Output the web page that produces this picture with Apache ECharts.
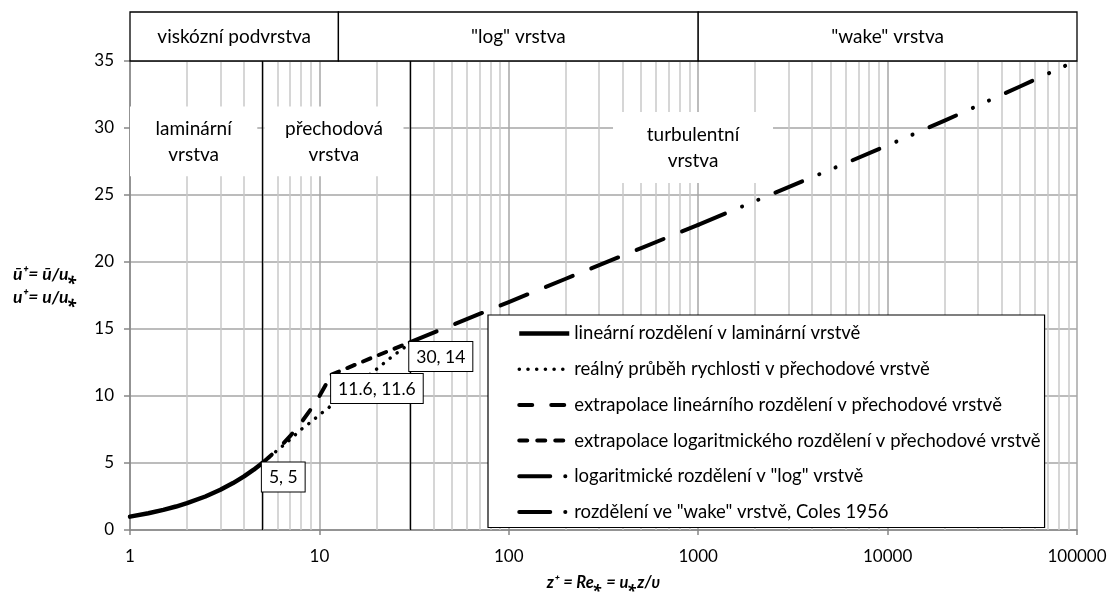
<!DOCTYPE html>
<html><head><meta charset="utf-8">
<script src="https://cdn.jsdelivr.net/npm/echarts@6/dist/echarts.min.js"></script>
<style>html,body{margin:0;padding:0;background:#fff}#c{width:1109px;height:593px}</style>
</head><body><div id="c"></div>
<script>
// ---------- data ----------
const seriesNames = [
  'lineární rozdělení v laminární vrstvě',
  'reálný průběh rychlosti v přechodové vrstvě',
  'extrapolace lineárního rozdělení v přechodové vrstvě',
  'extrapolace logaritmického rozdělení v přechodové vrstvě',
  'logaritmické rozdělení v "log" vrstvě',
  'rozdělení ve "wake" vrstvě, Coles 1956'
];
const laminarZ = [1, 1.25, 1.5, 1.75, 2, 2.5, 3, 3.5, 4, 4.5, 5];
const laminarU = [1, 1.25, 1.5, 1.75, 2, 2.5, 3, 3.5, 4, 4.5, 5];
const realZ = [5, 5.5, 6, 6.5, 7, 8, 9, 10, 11.6, 14, 17, 20, 24, 28, 30];
const realU = [5.0, 5.5, 5.95, 6.35, 6.75, 7.5, 8.05, 8.6, 9.3, 10.3, 11.2, 12.0, 12.9, 13.6, 14.0];
const linExtZ = [5, 6, 7, 8, 9, 10, 11.6];
const linExtU = [5, 6, 7, 8, 9, 10, 11.6];
const logExtZ = [11.6, 20, 30];
const logExtU = [11.6, 12.99, 14.0];
const logZ = [30, 50, 100, 200, 500, 1000];
const logU = [14.0, 15.28, 17.01, 18.75, 21.04, 22.77];
const wakeZ = [1000, 2000, 5000, 10000, 20000, 50000, 90000, 100000];
const wakeU = [22.77, 24.55, 26.9, 28.7, 30.55, 33.1, 34.75, 35.0];
const pointZ = [5, 11.6, 30];
const pointU = [5, 11.6, 14];
const pointLabels = ['5, 5', '11.6, 11.6', '30, 14'];
const layerBoundaries = [5, 30];
const headerLabels = ['viskózní podvrstva', '"log" vrstva', '"wake" vrstva'];
const headerBounds = [1, 12.6, 1000, 100000];
const regionLabels = ['laminární\nvrstva', 'přechodová\nvrstva', 'turbulentní\nvrstva'];
const xTickLabels = ['1', '10', '100', '1000', '10000', '100000'];
const yTickLabels = ['0', '5', '10', '15', '20', '25', '30', '35'];
const yAxisTitle = 'ū⁺= ū/u⁎\nu⁺= u/u⁎';
const xAxisTitle = 'z⁺ = Re⁎ = u⁎z/υ';

// ---------- chart ----------
const FONT = 'Lato, "Noto Sans", "DejaVu Sans", sans-serif';
const TXT = '#000';
const pairs = (xs, ys) => xs.map((x, i) => [x, ys[i]]);

const minorGridZ = [];
for (let d = 1; d < 100000; d *= 10) for (let k = 2; k <= 9; k++) minorGridZ.push(k * d);

// region box extents (annotation layout)
const regionBoxes = [
  [[1, 26.4], [4.7, 31.6]],
  [[5.12, 26.4], [27.8, 31.6]],
  [[355, 25.9], [2483, 31.2]]
];

const curveStyles = [
  { width: 4.5, type: 'solid', cap: 'round' },
  { width: 3.5, type: [0.1, 8.6], cap: 'round' },
  { width: 4, type: [12.5, 17], cap: 'round' },
  { width: 4, type: [8, 9], cap: 'round' },
  { width: 4, type: [29, 20], cap: 'round' },
  { width: 4, type: [29, 18.5, 0.1, 17.5, 0.1, 18.5], cap: 'round' }
];
const legendStyles = [
  { width: 4.5, type: 'solid', cap: 'butt', color: '#000' },
  { width: 3.5, type: [0.1, 8.6], cap: 'round', color: '#000' },
  { width: 4, type: [13, 19], cap: 'round', color: '#000' },
  { width: 4, type: [8, 10], cap: 'round', color: '#000' },
  { width: 4, type: [31, 15, 0.1, 30], cap: 'round', color: '#000' },
  { width: 4, type: [31, 15, 0.1, 30], cap: 'round', color: '#000' }
];
const hiddenSymbol = { color: 'rgba(0,0,0,0)', borderColor: 'rgba(0,0,0,0)', borderWidth: 0, opacity: 0 };
const curveData = [
  pairs(laminarZ, laminarU), pairs(realZ, realU), pairs(linExtZ, linExtU),
  pairs(logExtZ, logExtU), pairs(logZ, logU), pairs(wakeZ, wakeU)
];

const series = [];
series.push({
  type: 'line', data: [[1, 0]], symbol: 'none', lineStyle: { width: 0 }, silent: true, z: 1,
  markLine: {
    z: 1, silent: true, symbol: ['none', 'none'], label: { show: false }, animation: false,
    emphasis: { disabled: true },
    lineStyle: { color: '#c8c8c8', width: 1.5, type: 'solid' },
    data: minorGridZ.map(v => ({ xAxis: v }))
  }
});
series.push({
  type: 'line', data: [[1, 0]], symbol: 'none', lineStyle: { width: 0 }, silent: true, z: 2,
  markArea: {
    z: 2, silent: true, animation: false,
    itemStyle: { color: '#ffffff', opacity: 1, borderWidth: 0 },
    emphasis: { disabled: true },
    label: { show: true, position: 'inside', fontSize: 19, lineHeight: 26, color: TXT, fontFamily: FONT },
    data: regionLabels.map((t, i) => [
      { name: t, xAxis: regionBoxes[i][0][0], yAxis: regionBoxes[i][0][1] },
      { xAxis: regionBoxes[i][1][0], yAxis: regionBoxes[i][1][1] }
    ])
  }
});
series.push({
  type: 'line', data: [[1, 0]], symbol: 'none', lineStyle: { width: 0 }, silent: true, z: 3,
  markLine: {
    z: 3, silent: true, symbol: ['none', 'none'], label: { show: false }, animation: false,
    emphasis: { disabled: true },
    lineStyle: { color: '#000', width: 1.4, type: 'solid' },
    data: layerBoundaries.map(v => ({ xAxis: v }))
  }
});
seriesNames.forEach((n, i) => {
  series.push({
    name: n, type: 'line', data: curveData[i], symbol: 'none', showSymbol: false,
    z: 4, silent: true, smooth: false,
    lineStyle: Object.assign({ color: '#000', join: 'round' }, curveStyles[i]),
    itemStyle: { color: '#000' }
  });
});
series.push({
  type: 'scatter', data: pairs(pointZ, pointU), symbolSize: 1, z: 6, silent: true,
  itemStyle: { color: '#000', opacity: 1 },
  label: {
    show: true, position: [0, 0], align: 'left', verticalAlign: 'top',
    formatter: p => pointLabels[p.dataIndex],
    backgroundColor: '#fff', borderColor: '#000', borderWidth: 1,
    padding: [6, 7, 5, 7], fontSize: 17.5, lineHeight: 18, color: '#000', fontFamily: FONT
  }
});
series.push({
  type: 'line', xAxisIndex: 1, yAxisIndex: 1, data: [[1, 0]], symbol: 'none', lineStyle: { width: 0 }, silent: true, z: 2,
  markArea: {
    z: 2, silent: true, animation: false,
    itemStyle: { color: '#ffffff', opacity: 1, borderColor: '#000', borderWidth: 1.3 },
    emphasis: { disabled: true },
    label: { show: true, position: 'inside', fontSize: 19, color: TXT, fontFamily: FONT },
    data: headerLabels.map((t, i) => [
      { name: t, xAxis: headerBounds[i], yAxis: 0 },
      { xAxis: headerBounds[i + 1], yAxis: 1 }
    ])
  }
});

const axisGray = '#868686';
const option = {
  animation: false,
  textStyle: { fontFamily: FONT },
  grid: [
    { left: 130, right: 32, top: 61, bottom: 63, outerBoundsMode: 'none', containLabel: false },
    { left: 130, right: 32, top: 12, height: 49, outerBoundsMode: 'none', containLabel: false }
  ],
  xAxis: [
    {
      type: 'log', logBase: 10, min: 1, max: 100000, gridIndex: 0,
      axisLine: { show: true, onZero: false, lineStyle: { color: axisGray, width: 1.5 } },
      axisTick: { show: true, length: 5, lineStyle: { color: axisGray, width: 1.5 } },
      minorTick: { show: false }, minorSplitLine: { show: false },
      axisLabel: {
        fontSize: 17, color: TXT, margin: 18, fontFamily: FONT,
        formatter: v => xTickLabels[Math.round(Math.log10(v))]
      },
      splitLine: { show: true, lineStyle: { color: '#a6a6a6', width: 1.5 } },
      name: xAxisTitle, nameLocation: 'middle', nameGap: 44,
      nameTextStyle: { fontSize: 16.5, fontWeight: 'bold', fontStyle: 'italic', color: TXT, fontFamily: FONT }
    },
    { type: 'log', logBase: 10, min: 1, max: 100000, gridIndex: 1, show: false }
  ],
  yAxis: [
    {
      type: 'value', min: 0, max: 35, interval: 5, gridIndex: 0,
      axisLine: { show: true, lineStyle: { color: axisGray, width: 1.5 } },
      axisTick: { show: true, length: 6, lineStyle: { color: axisGray, width: 1.5 } },
      axisLabel: { fontSize: 17, color: TXT, margin: 16, fontFamily: FONT, formatter: v => yTickLabels[Math.round(v / 5)] },
      splitLine: { show: true, lineStyle: { color: '#a6a6a6', width: 1.5 } }
    },
    { type: 'value', min: 0, max: 1, gridIndex: 1, show: false }
  ],
  legend: {
    orient: 'vertical', left: 488, top: 315, z: 10,
    backgroundColor: '#fff', borderColor: '#000', borderWidth: 1.2, borderRadius: 0,
    padding: [9, 4, 6, 29], itemGap: 16.7, itemWidth: 50, itemHeight: 14,
    selectedMode: false,
    itemStyle: hiddenSymbol,
    textStyle: { fontSize: 18.5, lineHeight: 18, color: TXT, fontFamily: FONT },
    data: seriesNames.map((n, i) => ({ name: n, lineStyle: legendStyles[i], itemStyle: hiddenSymbol }))
  },
  graphic: [{
    type: 'text', left: 13, top: 263, z: 10,
    style: {
      text: yAxisTitle, fontSize: 17.5, fontWeight: 'bold', fontStyle: 'italic',
      fontFamily: FONT, lineHeight: 23, fill: TXT
    }
  }],
  series: series
};
const chart = echarts.init(document.getElementById('c'), null, { renderer: 'canvas' });
chart.setOption(option);
</script>
</body></html>
